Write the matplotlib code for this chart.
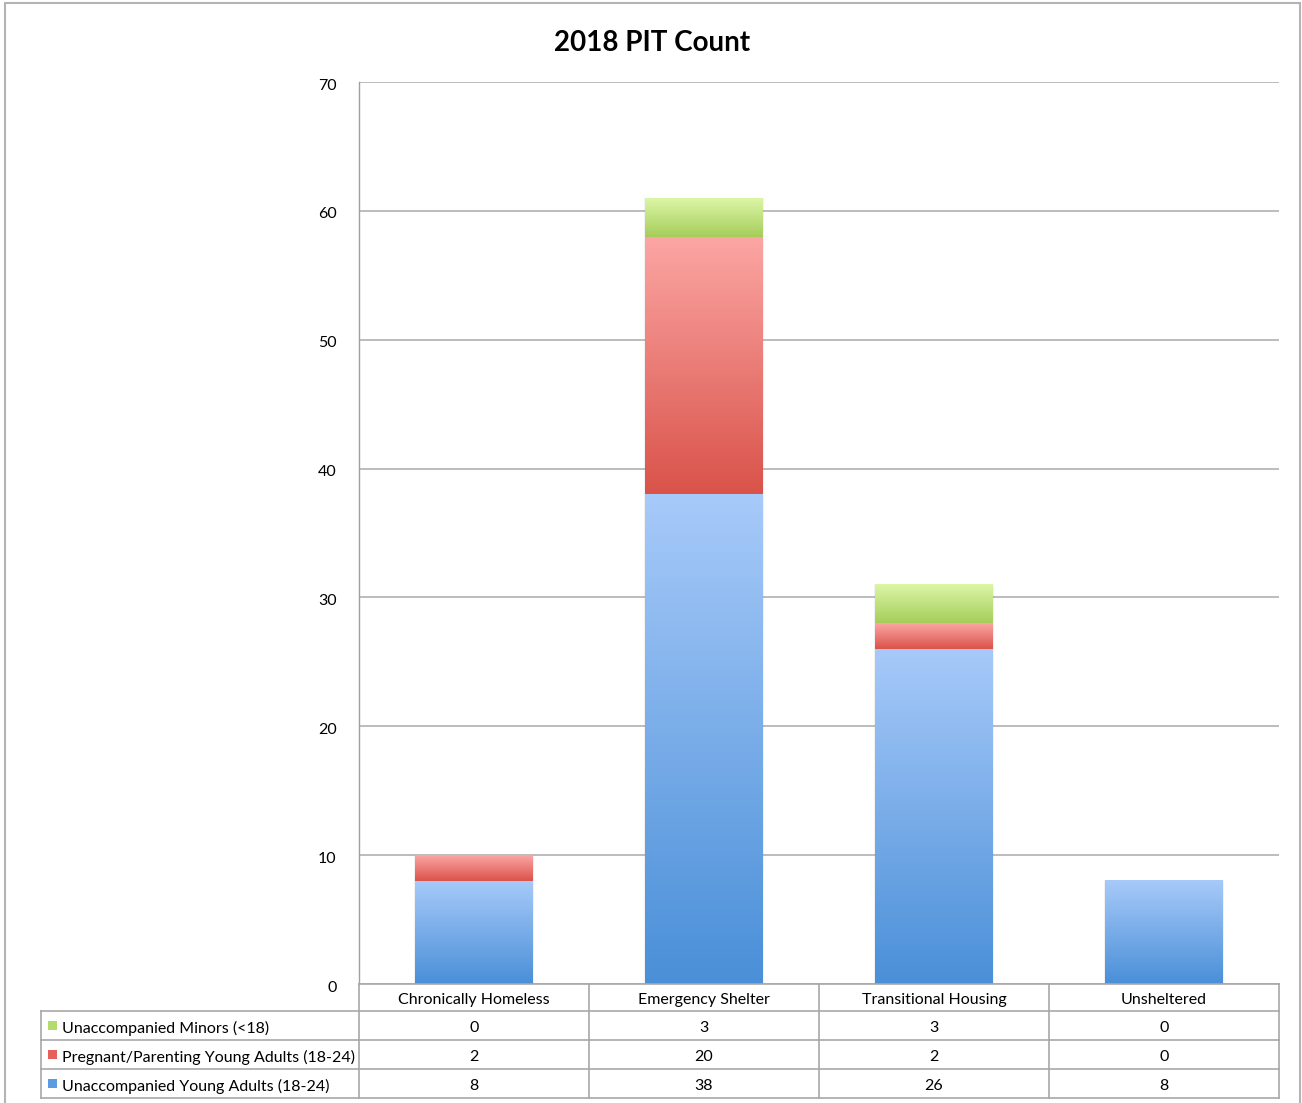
import numpy as np
import matplotlib
matplotlib.use("Agg")
import matplotlib.pyplot as plt
from matplotlib.patches import Rectangle
from matplotlib.colors import LinearSegmentedColormap
from matplotlib.transforms import ScaledTranslation

categories = ["Chronically Homeless", "Emergency Shelter", "Transitional Housing", "Unsheltered"]
series_names = ["Unaccompanied Minors (<18)", "Pregnant/Parenting Young Adults (18-24)",
                "Unaccompanied Young Adults (18-24)"]
minors = [0, 3, 3, 0]
parenting = [2, 20, 2, 0]
young_adults = [8, 38, 26, 8]
yticks = [0, 10, 20, 30, 40, 50, 60, 70]
title = "2018 PIT Count"

# gradient (top colour, bottom colour) and legend swatch colour
grad_blue = ("#a7caf9", "#4a8fd8")
grad_red = ("#fca6a4", "#d9534a")
grad_green = ("#dcf6a6", "#a6cd5a")
sw_colors = {"minors": "#b4dc6c", "parenting": "#e5615a", "young": "#5b9ce0"}

plt.rcParams["font.family"] = ["Lato", "DejaVu Sans"]

W, H = 1302, 1103
fig = plt.figure(figsize=(W / 100, H / 100), dpi=100)
ax = fig.add_axes([359 / W, 1 - 984 / H, 920 / W, 902 / H])

x = np.arange(len(categories))
bw = 0.513
stacks = [(young_adults, grad_blue), (parenting, grad_red), (minors, grad_green)]
bottom = np.zeros(len(categories))
for vals, (ctop, cbot) in stacks:
    bars = ax.bar(x, vals, bw, bottom=bottom, color="none", edgecolor="none", zorder=2)
    cmap = LinearSegmentedColormap.from_list("g", [cbot, ctop])
    grad = np.linspace(0, 1, 256).reshape(-1, 1)
    for b in bars:
        if b.get_height() <= 0:
            continue
        x0, y0, w, h = b.get_x(), b.get_y(), b.get_width(), b.get_height()
        # soft side shadow
        ax.add_patch(Rectangle((x0 - 0.005, y0), w + 0.010, h, facecolor="#000000",
                               alpha=0.05, edgecolor="none", zorder=1.5))
        ax.imshow(grad, extent=(x0, x0 + w, y0, y0 + h), origin="lower", cmap=cmap,
                  aspect="auto", zorder=3, interpolation="bicubic")
    bottom = bottom + np.array(vals)

ax.set_xlim(-0.5, len(categories) - 0.5)
ax.set_ylim(0, 70)
ax.set_yticks(yticks)
ax.set_yticklabels([str(t) for t in yticks], fontsize=11.5)
ax.tick_params(axis="y", length=0, pad=16)
shift = ScaledTranslation(0, -2 / 100, fig.dpi_scale_trans)
for lab in ax.get_yticklabels():
    lab.set_transform(lab.get_transform() + shift)
ax.set_xticks([])
ax.yaxis.grid(True, color="#b0b0b0", linewidth=1.2, zorder=0)
ax.set_axisbelow(True)
for s in ["top", "right", "bottom"]:
    ax.spines[s].set_visible(False)
ax.spines["left"].set_color("#a0a0a0")
ax.spines["left"].set_linewidth(1.0)

fig.text(652 / W, 1 - 43 / H, title, ha="center", va="center", fontsize=20, fontweight="bold")

# data table below axes (axes coords)
px_x = 1 / 920
px_y = 1 / 902
lab_left = -(359 - 41) * px_x
row_h = 29 * px_y
hdr_h = 27 * px_y
line_kw = dict(color="#a8a8a8", linewidth=1.2, transform=ax.transAxes, clip_on=False, zorder=5)
y_hdr_bot = -hdr_h
row_tops = [y_hdr_bot - i * row_h for i in range(4)]
ax.plot([0, 1], [0, 0], **line_kw)
for yy in row_tops:
    ax.plot([lab_left, 1], [yy, yy], **line_kw)
ax.plot([lab_left, lab_left], [row_tops[0], row_tops[-1]], **line_kw)
for i in range(len(categories) + 1):
    xx = i / len(categories)
    ax.plot([xx, xx], [0, row_tops[-1]], **line_kw)

toff = 2.5 * px_y
for i, c in enumerate(categories):
    ax.text((i + 0.5) / len(categories), -hdr_h / 2 - toff, c, transform=ax.transAxes,
            ha="center", va="center", fontsize=11.5, clip_on=False)

rows = [(series_names[0], minors, sw_colors["minors"]),
        (series_names[1], parenting, sw_colors["parenting"]),
        (series_names[2], young_adults, sw_colors["young"])]
for r, (name, vals, col) in enumerate(rows):
    yc = row_tops[r] - row_h / 2
    ax.add_patch(Rectangle((lab_left + 7 * px_x, yc - 4 * px_y), 9 * px_x, 9 * px_y,
                           transform=ax.transAxes, clip_on=False, facecolor=col,
                           edgecolor="none", zorder=6))
    ax.text(lab_left + 21 * px_x, yc - toff, name, transform=ax.transAxes, ha="left",
            va="center", fontsize=11.5, clip_on=False)
    for i, v in enumerate(vals):
        ax.text((i + 0.5) / len(categories), yc - toff, str(v), transform=ax.transAxes,
                ha="center", va="center", fontsize=11.5, clip_on=False)

fig.patches.append(Rectangle((5 / W, -0.01), 1295 / W, 1 - 3 / H + 0.01, transform=fig.transFigure,
                             facecolor="none", edgecolor="#b4b4b4", linewidth=1.5))

fig.savefig("out.png", dpi=100, facecolor="white")
